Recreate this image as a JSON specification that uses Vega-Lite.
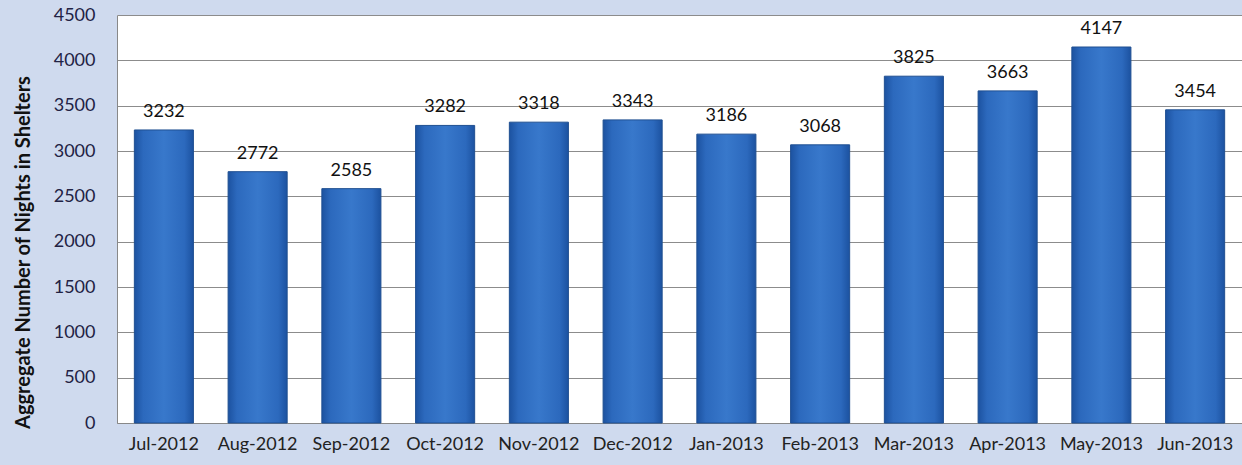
{
  "$schema": "https://vega.github.io/schema/vega-lite/v6.json",
  "autosize": {"type": "none"},
  "width": 1125,
  "height": 408,
  "padding": {"left": 117, "top": 15, "right": 0, "bottom": 42},
  "background": "#cfdaee",
  "view": {"fill": "white", "stroke": null},
  "config": {"font": "Lato"},
  "data": {
    "values": [
      {"month": "Jul-2012", "nights": 3232},
      {"month": "Aug-2012", "nights": 2772},
      {"month": "Sep-2012", "nights": 2585},
      {"month": "Oct-2012", "nights": 3282},
      {"month": "Nov-2012", "nights": 3318},
      {"month": "Dec-2012", "nights": 3343},
      {"month": "Jan-2013", "nights": 3186},
      {"month": "Feb-2013", "nights": 3068},
      {"month": "Mar-2013", "nights": 3825},
      {"month": "Apr-2013", "nights": 3663},
      {"month": "May-2013", "nights": 4147},
      {"month": "Jun-2013", "nights": 3454}
    ]
  },
  "encoding": {
    "x": {
      "field": "month", "type": "nominal", "sort": null,
      "scale": {"paddingInner": 0.37, "paddingOuter": 0.185},
      "axis": {"title": null, "labelAngle": 0, "labelFontSize": 18, "labelColor": "#222222", "labelPadding": 12, "ticks": false, "domain": true, "domainColor": "#888888"}
    },
    "y": {
      "field": "nights", "type": "quantitative",
      "scale": {"domain": [0, 4500], "nice": false},
      "axis": {"title": "Aggregate Number of Nights in Shelters", "titleFontSize": 20, "titleFontWeight": "bold", "titleColor": "#111111", "titleX": -94, "titleY": 237, "titleBaseline": "middle", "titleAlign": "center", "titleAngle": -90, "values": [0,500,1000,1500,2000,2500,3000,3500,4000,4500], "format": "d", "labelFontSize": 18, "labelColor": "#222244", "labelPadding": 22, "ticks": false, "domain": true, "domainColor": "#888888", "gridColor": "#8c8c8c", "gridWidth": 1}
    }
  },
  "layer": [
    {
      "mark": {
        "type": "bar",
        "stroke": "#1f4f91",
        "strokeWidth": 1,
        "color": {
          "gradient": "linear", "x1": 0, "x2": 1, "y1": 0, "y2": 0,
          "stops": [
            {"offset": 0, "color": "#1c52a0"},
            {"offset": 0.15, "color": "#2c69bd"},
            {"offset": 0.5, "color": "#3878cb"},
            {"offset": 0.85, "color": "#2c69bd"},
            {"offset": 1, "color": "#1c52a0"}
          ]
        }
      }
    },
    {
      "mark": {"type": "text", "baseline": "bottom", "dy": -9, "fontSize": 18, "color": "#111111"},
      "encoding": {"text": {"field": "nights", "type": "quantitative"}}
    }
  ]
}
